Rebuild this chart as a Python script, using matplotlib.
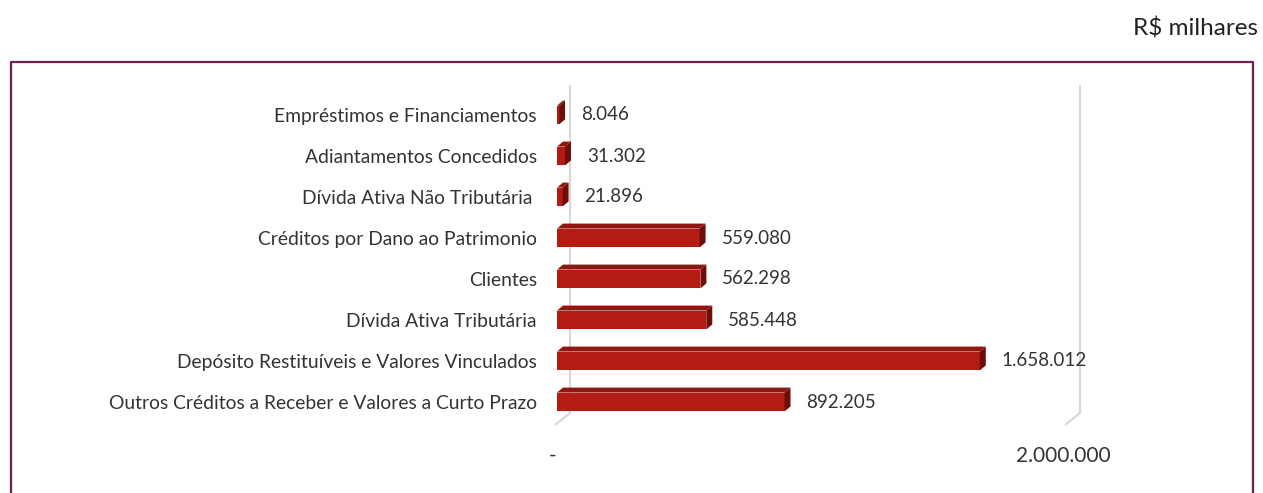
import matplotlib
matplotlib.use("Agg")
import matplotlib.pyplot as plt
from matplotlib.patches import Polygon
from matplotlib.lines import Line2D
from matplotlib.transforms import ScaledTranslation

# data
categorias = [
    "Empréstimos e Financiamentos",
    "Adiantamentos Concedidos",
    "Dívida Ativa Não Tributária ",
    "Créditos por Dano ao Patrimonio",
    "Clientes",
    "Dívida Ativa Tributária",
    "Depósito Restituíveis e Valores Vinculados",
    "Outros Créditos a Receber e Valores a Curto Prazo",
]
valores = [8046, 31302, 21896, 559080, 562298, 585448, 1658012, 892205]
xticks = [0, 2000000]
xtick_labels = ["-", "2.000.000"]

W, H = 1263, 493
FRONT = "#b41c13"
TOP = "#8f170f"
SIDE = "#6e0e09"
GRID = "#d9d9d9"
TXT = "#333333"
FONT = "Lato"

plt.rcParams["font.family"] = [FONT, "DejaVu Sans"]

fig = plt.figure(figsize=(W / 100, H / 100), dpi=100)
ax_l, ax_r = 557, 1067
row_px = 41
ax_top = 115 - row_px / 2
ax_bot = ax_top + row_px * len(categorias)
ax = fig.add_axes([ax_l / W, (H - ax_bot) / H, (ax_r - ax_l) / W, (ax_bot - ax_top) / H])
xmax = 2000000
ax.set_xlim(0, xmax)
ax.set_ylim(len(categorias) - 0.5, -0.5)

px_x = xmax / (ax_r - ax_l)   # data units per pixel (x)
px_y = 1.0 / row_px            # data units per pixel (y)

ys = list(range(len(categorias)))
h = 0.46
ax.barh(ys, valores, height=h, color=FRONT, zorder=3)

# 3d faces
ddx, ddy = 6 * px_x, -5 * px_y
for y, v in zip(ys, valores):
    t = y - h / 2
    b = y + h / 2
    ax.add_patch(Polygon([(0, t), (v, t), (v + ddx, t + ddy), (ddx, t + ddy)],
                         closed=True, facecolor=TOP, edgecolor="none", zorder=3))
    ax.add_patch(Polygon([(v, t), (v + ddx, t + ddy), (v + ddx, b + ddy), (v, b)],
                         closed=True, facecolor=SIDE, edgecolor="none", zorder=3))
    ax.annotate(f"{v:,}".replace(",", "."), (v, y), xytext=(22, 0),
                textcoords="offset pixels", va="center", ha="left",
                fontsize=13.5, color=TXT)

# gridlines (back wall + floor slant)
gdx, gdy = 13 * px_x, -12 * px_y
y_floor = len(categorias) - 1 + 11 * px_y
y_top = -30 * px_y
for gx in xticks:
    ax.plot([gx + gdx, gx + gdx, gx - 2 * px_x], [y_top, y_floor, y_floor - gdy],
            color=GRID, lw=1.6, zorder=1, solid_capstyle="butt", clip_on=False)

ax.set_yticks(ys)
ax.set_yticklabels(categorias, fontsize=13.9, color=TXT)
ax.set_xticks(xticks)
ax.set_xticklabels(xtick_labels, fontsize=15, color=TXT)
ax.tick_params(axis="y", length=0, pad=14.5)
ax.tick_params(axis="x", length=0, pad=17)
for lab in ax.get_xticklabels():
    lab.set_transform(lab.get_transform() + ScaledTranslation(-4 / 100, 0, fig.dpi_scale_trans))
for s in ax.spines.values():
    s.set_visible(False)
ax.patch.set_visible(False)

# outer frame
fx0, fx1, fy0 = 10.5 / W, 1252.5 / W, (H - 61.5) / H
fig.add_artist(Line2D([fx0, fx0, fx1, fx1], [-0.05, fy0, fy0, -0.05],
                      transform=fig.transFigure, color="#6b2150", lw=1.6))

fig.text(1258 / W, (H - 28) / H, "R$ milhares", ha="right", va="center",
         fontsize=17.5, color="#222222")

fig.savefig("out.png", dpi=100)
